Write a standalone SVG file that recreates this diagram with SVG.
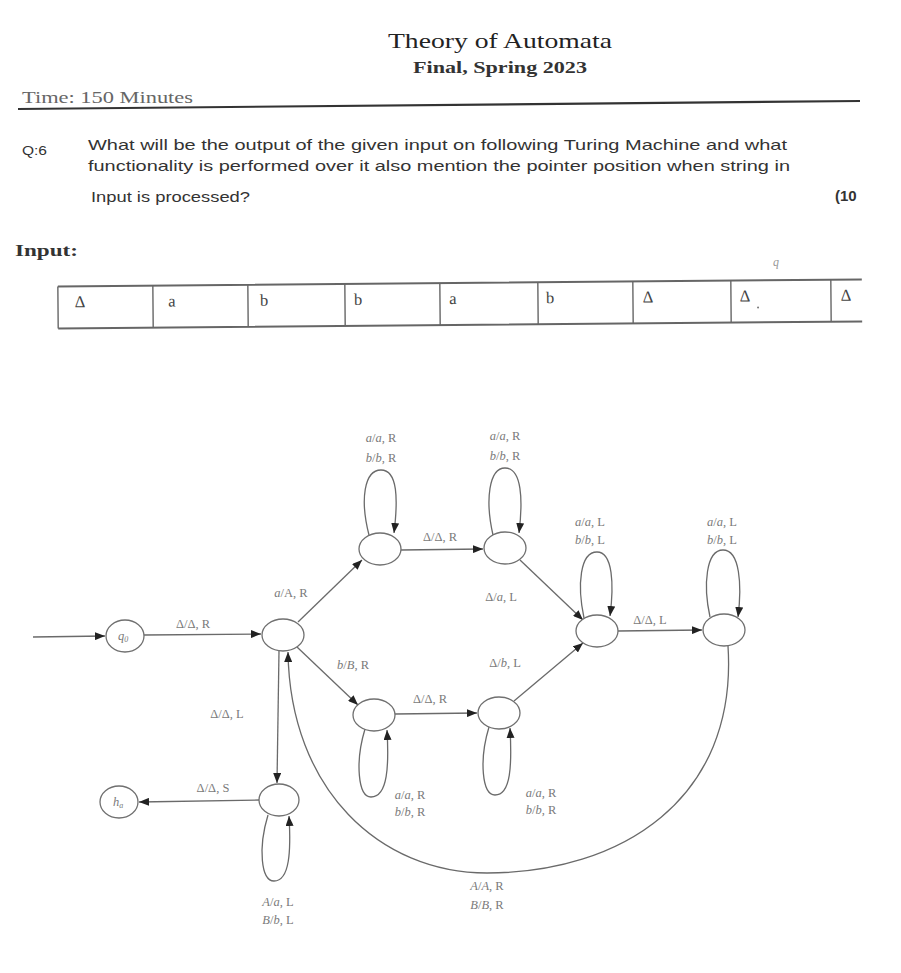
<svg xmlns="http://www.w3.org/2000/svg" width="901" height="973" viewBox="0 0 901 973">
<defs>
<style>
.serif{font-family:"Liberation Serif","DejaVu Serif",serif}
.sans{font-family:"Liberation Sans","DejaVu Sans",sans-serif}
.lbl{font-family:"Liberation Serif","DejaVu Serif",serif;font-size:12.5px;fill:#7a7a7a;text-anchor:middle}
.i{font-style:italic}
.node{fill:#fff;stroke:#707070;stroke-width:1.3}
.edge{fill:none;stroke:#6a6a6a;stroke-width:1.3}
.cell{font-family:"Liberation Serif","DejaVu Serif",serif;font-size:16.5px;fill:#444;text-anchor:middle}
</style>
<marker id="arr" viewBox="0 0 10 8" refX="10" refY="4" markerWidth="10" markerHeight="8" markerUnits="userSpaceOnUse" orient="auto">
<path d="M0,0 L10,4 L0,8 z" fill="#222"/>
</marker>
<clipPath id="pg"><rect x="0" y="0" width="857" height="973"/></clipPath>
</defs>
<rect width="901" height="973" fill="#fff"/>

<g id="header">
<text class="serif" x="500" y="48" font-size="21" fill="#222" text-anchor="middle" textLength="224" lengthAdjust="spacingAndGlyphs">Theory of Automata</text>
<text class="serif" x="500" y="73" font-size="17" font-weight="bold" fill="#333" text-anchor="middle" textLength="174" lengthAdjust="spacingAndGlyphs">Final, Spring 2023</text>
<text class="serif" x="22" y="103" font-size="17" fill="#666" textLength="171" lengthAdjust="spacingAndGlyphs">Time: 150 Minutes</text>
<path d="M18 109 L860 101" stroke="#333" stroke-width="2.2" fill="none"/>
</g>

<g id="question" fill="#333">
<text class="sans" x="22" y="155" font-size="13.5" textLength="25" lengthAdjust="spacingAndGlyphs">Q:6</text>
<text class="sans" x="88" y="150" font-size="14.5" textLength="699" lengthAdjust="spacingAndGlyphs">What will be the output of the given input on following Turing Machine and what</text>
<text class="sans" x="88" y="171" font-size="14.5" textLength="702" lengthAdjust="spacingAndGlyphs">functionality is performed over it also mention the pointer position when string in</text>
<text class="sans" x="91" y="202" font-size="14.5" textLength="159" lengthAdjust="spacingAndGlyphs">Input is processed?</text>
<g clip-path="url(#pg)"><text class="sans" x="835" y="201" font-size="15" font-weight="bold">(10</text></g>
</g>

<g id="tape">
<text class="serif" x="15" y="256" font-size="16" font-weight="bold" fill="#333" textLength="63" lengthAdjust="spacingAndGlyphs">Input:</text>
<text class="serif i" x="773" y="266" font-size="12" fill="#999">q</text>
<g transform="rotate(-0.5 459 303)" stroke="#666" stroke-width="1.4" fill="none">
<path d="M58 283 L862 283 M58 325 L862 325" stroke-width="2"/>
<path d="M58 283 V325 M153 283 V325 M248 283 V325 M345 283 V325 M440 283 V325 M538 283 V325 M633 283 V325 M731 283 V325 M831 283 V325"/>
</g>
<g transform="rotate(-0.5 459 303)">
<text class="cell" x="80" y="304">Δ</text>
<text class="cell" x="172" y="304">a</text>
<text class="cell" x="264" y="304">b</text>
<text class="cell" x="358" y="304">b</text>
<text class="cell" x="453" y="304">a</text>
<text class="cell" x="550" y="304">b</text>
<text class="cell" x="648" y="304">Δ</text>
<text class="cell" x="745" y="304">Δ</text>
<circle cx="758" cy="310" r="1" fill="#777"/>
<text class="cell" x="846" y="304">Δ</text>
</g>
</g>

<g id="connectors">
<path class="edge" d="M33 637 L105 636" marker-end="url(#arr)"/>
<path class="edge" d="M144 635 L261 634" marker-end="url(#arr)"/>
<path class="edge" d="M298 622 L362 560" marker-end="url(#arr)"/>
<path class="edge" d="M401 550 L483 549" marker-end="url(#arr)"/>
<path class="edge" d="M520 560 L583 620" marker-end="url(#arr)"/>
<path class="edge" d="M514 701 L583 643" marker-end="url(#arr)"/>
<path class="edge" d="M618 631 L702 630" marker-end="url(#arr)"/>
<path class="edge" d="M297 647 L358 705" marker-end="url(#arr)"/>
<path class="edge" d="M395 714 L477 713" marker-end="url(#arr)"/>
<path class="edge" d="M279 651 L277 783" marker-end="url(#arr)"/>
<path class="edge" d="M259 800 L139 802" marker-end="url(#arr)"/>
<path class="edge" d="M728 646 C738 800 620 873 487 873 C380 873 290 790 288 652" marker-end="url(#arr)"/>
<path class="edge" d="M369 535 C360 500 364 470 381 470 C398 470 398 500 394 533" marker-end="url(#arr)"/>
<path class="edge" d="M493 535 C485 500 489 468 505 468 C522 468 523 500 519 533" marker-end="url(#arr)"/>
<path class="edge" d="M584 618 C577 585 580 552 597 552 C613 552 614 585 610 616" marker-end="url(#arr)"/>
<path class="edge" d="M710 617 C703 585 706 550 723 550 C740 550 742 585 738 617" marker-end="url(#arr)"/>
<path class="edge" d="M365 729 C355 762 358 797 371 797 C388 797 389 765 387 730" marker-end="url(#arr)"/>
<path class="edge" d="M489 727 C479 760 482 795 495 795 C511 795 512 765 510 728" marker-end="url(#arr)"/>
<path class="edge" d="M268 815 C258 848 261 881 274 881 C290 881 291 850 289 816" marker-end="url(#arr)"/>
</g>

<g id="edge-labels">
<text class="lbl" x="193" y="628">Δ/Δ, R</text>
<text class="lbl" x="291" y="597"><tspan class="i">a</tspan>/A, R</text>
<text class="lbl" x="440" y="541">Δ/Δ, R</text>
<text class="lbl" x="381" y="442"><tspan class="i">a</tspan>/<tspan class="i">a</tspan>, R</text>
<text class="lbl" x="381" y="462"><tspan class="i">b</tspan>/<tspan class="i">b</tspan>, R</text>
<text class="lbl" x="505" y="440"><tspan class="i">a</tspan>/<tspan class="i">a</tspan>, R</text>
<text class="lbl" x="505" y="460"><tspan class="i">b</tspan>/<tspan class="i">b</tspan>, R</text>
<text class="lbl" x="501" y="601">Δ/<tspan class="i">a</tspan>, L</text>
<text class="lbl" x="505" y="667">Δ/<tspan class="i">b</tspan>, L</text>
<text class="lbl" x="590" y="526"><tspan class="i">a</tspan>/<tspan class="i">a</tspan>, L</text>
<text class="lbl" x="590" y="544"><tspan class="i">b</tspan>/<tspan class="i">b</tspan>, L</text>
<text class="lbl" x="722" y="526"><tspan class="i">a</tspan>/<tspan class="i">a</tspan>, L</text>
<text class="lbl" x="722" y="544"><tspan class="i">b</tspan>/<tspan class="i">b</tspan>, L</text>
<text class="lbl" x="650" y="624">Δ/Δ, L</text>
<text class="lbl" x="353" y="669"><tspan class="i">b</tspan>/<tspan class="i">B</tspan>, R</text>
<text class="lbl" x="430" y="703">Δ/Δ, R</text>
<text class="lbl" x="410" y="799"><tspan class="i">a</tspan>/<tspan class="i">a</tspan>, R</text>
<text class="lbl" x="410" y="816"><tspan class="i">b</tspan>/<tspan class="i">b</tspan>, R</text>
<text class="lbl" x="541" y="797"><tspan class="i">a</tspan>/<tspan class="i">a</tspan>, R</text>
<text class="lbl" x="541" y="814"><tspan class="i">b</tspan>/<tspan class="i">b</tspan>, R</text>
<text class="lbl" x="227" y="718">Δ/Δ, L</text>
<text class="lbl" x="213" y="792">Δ/Δ, S</text>
<text class="lbl" x="278" y="906"><tspan class="i">A</tspan>/<tspan class="i">a</tspan>, L</text>
<text class="lbl" x="278" y="924"><tspan class="i">B</tspan>/<tspan class="i">b</tspan>, L</text>
<text class="lbl" x="487" y="890"><tspan class="i">A</tspan>/<tspan class="i">A</tspan>, R</text>
<text class="lbl" x="487" y="909"><tspan class="i">B</tspan>/<tspan class="i">B</tspan>, R</text>
</g>

<g id="q0"><ellipse class="node" cx="125" cy="636" rx="19" ry="16"/><text class="lbl i" x="123" y="640" font-size="11">q<tspan font-size="8" dy="2">0</tspan></text></g>
<g id="s1"><ellipse class="node" cx="283" cy="635" rx="21" ry="16"/></g>
<g id="s2"><ellipse class="node" cx="380" cy="549" rx="21" ry="16"/></g>
<g id="s3"><ellipse class="node" cx="505" cy="548" rx="21" ry="16"/></g>
<g id="s4"><ellipse class="node" cx="597" cy="631" rx="21" ry="16"/></g>
<g id="s5"><ellipse class="node" cx="724" cy="630" rx="21" ry="16"/></g>
<g id="s6"><ellipse class="node" cx="374" cy="715" rx="21" ry="16"/></g>
<g id="s7"><ellipse class="node" cx="499" cy="713" rx="21" ry="16"/></g>
<g id="s8"><ellipse class="node" cx="279" cy="800" rx="20" ry="16"/></g>
<g id="halt"><ellipse class="node" cx="119" cy="802" rx="19" ry="16"/><text class="lbl i" x="118" y="806" font-size="11">h<tspan font-size="8" dy="2">a</tspan></text></g>
</svg>
